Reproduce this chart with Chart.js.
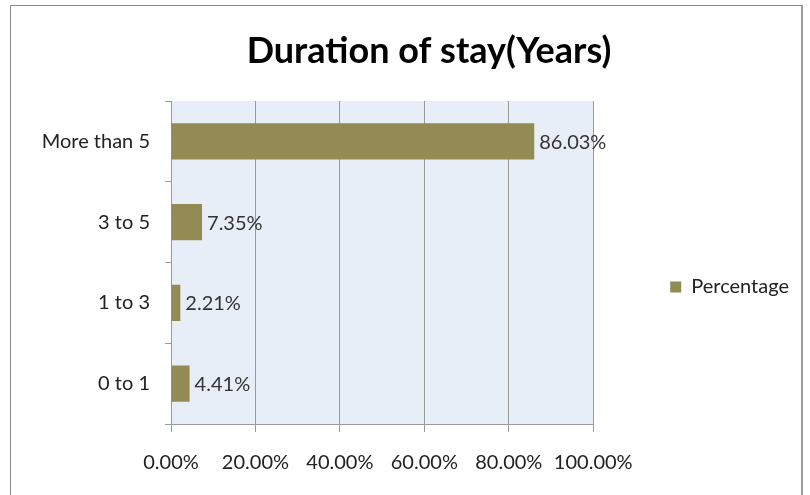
<!DOCTYPE html>
<html>
<head>
<meta charset="utf-8">
<script src="https://cdn.jsdelivr.net/npm/chart.js@4.4.1/dist/chart.umd.min.js"></script>
<style>
  html, body { margin: 0; background: #fff; overflow: hidden; width: 810px; height: 495px; }
  #frame {
    position: absolute; left: 10px; top: 5px; width: 790px; height: 500px;
    border: 1px solid #8c8c8c; border-right: 2px solid #9a9a9a;
  }
  #wrap { position: absolute; left: 0; top: 0; width: 810px; height: 495px; }
</style>
</head>
<body>
<div id="frame"></div>
<div id="wrap"><canvas id="chart"></canvas></div>
<script>
// Chart data
const chartTitle = 'Duration of stay(Years)';
const categories = ['More than 5', '3 to 5', '1 to 3', '0 to 1'];
const percentages = [86.03, 7.35, 2.21, 4.41];
const xTicks = [0, 20, 40, 60, 80, 100];

const barColor = '#948A54';
const fontFamily = 'Lato, "Open Sans", sans-serif';

// Light blue plot background
const plotBackground = {
  id: 'plotBackground',
  beforeDraw(chart) {
    const {ctx, chartArea: a} = chart;
    ctx.save();
    ctx.fillStyle = '#E8EEF7';
    ctx.fillRect(a.left, a.top, a.right - a.left, a.bottom - a.top);
    ctx.restore();
  }
};

// Title sits a bit right of the canvas centre, like the original
const offsetTitle = {
  id: 'offsetTitle',
  afterDraw(chart) {
    const {ctx} = chart;
    ctx.save();
    ctx.font = 'bold 36px ' + fontFamily;
    ctx.fillStyle = '#000';
    ctx.textAlign = 'center';
    ctx.textBaseline = 'alphabetic';
    ctx.fillText(chartTitle, chart.width / 2 + 24, 63);
    ctx.restore();
  }
};

// Value labels right of each bar
const valueLabels = {
  id: 'valueLabels',
  afterDatasetsDraw(chart) {
    const {ctx} = chart;
    const meta = chart.getDatasetMeta(0);
    ctx.save();
    ctx.font = '20px ' + fontFamily;
    ctx.fillStyle = '#333';
    ctx.textBaseline = 'middle';
    ctx.textAlign = 'left';
    meta.data.forEach((bar, i) => {
      ctx.fillText(percentages[i].toFixed(2) + '%', bar.x + 5, bar.y + 1);
    });
    ctx.restore();
  }
};

new Chart(document.getElementById('chart'), {
  type: 'bar',
  data: {
    labels: categories,
    datasets: [{
      label: 'Percentage',
      data: percentages,
      backgroundColor: barColor,
      borderWidth: 0,
      barPercentage: 0.9,
      categoryPercentage: 0.5
    }]
  },
  options: {
    indexAxis: 'y',
    responsive: true,
    maintainAspectRatio: false,
    animation: false,
    layout: {
      padding: { left: 38, right: 11, top: 101, bottom: 1 }
    },
    scales: {
      x: {
        min: 0,
        max: 100,
        afterBuildTicks(scale) {
          scale.ticks = xTicks.map(v => ({ value: v }));
        },
        grid: { color: '#9a9a9a', tickLength: 8 },
        border: { color: '#9a9a9a' },
        ticks: {
          padding: 19,
          maxRotation: 0,
          color: '#222',
          font: { family: fontFamily, size: 20 },
          callback: v => v.toFixed(2) + '%'
        }
      },
      y: {
        afterFit(scale) {
          scale.width = 133;
        },
        grid: { drawOnChartArea: false, tickLength: 6, color: '#9a9a9a', offset: true },
        border: { color: '#9a9a9a' },
        ticks: {
          padding: 15,
          color: '#222',
          font: { family: fontFamily, size: 20 }
        }
      }
    },
    plugins: {
      title: { display: false },
      legend: {
        position: 'right',
        align: 'start',
        maxWidth: 260,
        // empty title only pushes the single legend entry down
        title: {
          display: true,
          text: ' ',
          font: { size: 10, lineHeight: 1 },
          padding: { top: 89, bottom: 0 }
        },
        labels: {
          boxWidth: 11,
          boxHeight: 11,
          padding: 77,
          color: '#222',
          font: { family: fontFamily, size: 20 }
        }
      },
      tooltip: { enabled: false }
    }
  },
  plugins: [plotBackground, valueLabels, offsetTitle]
});
</script>
</body>
</html>
